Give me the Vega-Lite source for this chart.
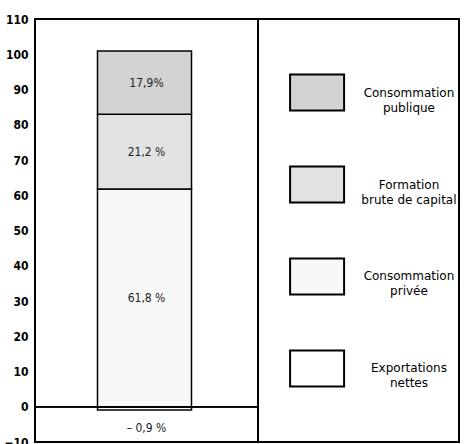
{
  "$schema": "https://vega.github.io/schema/vega-lite/v6.json",
  "padding": {"left": 2, "top": 12, "right": 11, "bottom": 2},
  "spacing": 0,
  "bounds": "flush",
  "background": "white",
  "config": {
    "view": {"stroke": "black", "strokeWidth": 2},
    "font": "DejaVu Sans Condensed",
    "axisY": {"labelOverlap": false, "labelBound": false, "ticks": false, "domain": false, "grid": false, "title": null, "labelFontSize": 12, "labelPadding": 7, "labelColor": "black", "labelFont": "DejaVu Sans Condensed", "labelFontWeight": "bold"}
  },
  "datasets": {
    "comp": [
      {"composante": "Exportations nettes", "legende": "Exportations\nnettes", "part": -0.9, "etiquette": "– 0,9 %", "ordre": 0},
      {"composante": "Consommation privée", "legende": "Consommation\nprivée", "part": 61.8, "etiquette": "61,8 %", "ordre": 1},
      {"composante": "Formation brute de capital", "legende": "Formation\nbrute de capital", "part": 21.2, "etiquette": "21,2 %", "ordre": 2},
      {"composante": "Consommation publique", "legende": "Consommation\npublique", "part": 17.9, "etiquette": "17,9%", "ordre": 3}
    ]
  },
  "hconcat": [
    {
      "width": 223,
      "height": 423,
      "data": {"name": "comp"},
      "transform": [
        {"stack": "part", "groupby": [], "sort": [{"field": "ordre", "order": "ascending"}], "as": ["v0", "v1"]},
        {"calculate": "(datum.v0 + datum.v1) / 2", "as": "milieu"}
      ],
      "resolve": {"axis": {"y": "independent"}},
      "layer": [
        {
          "mark": {"type": "bar", "width": 94, "xOffset": -2, "stroke": "black", "strokeWidth": 1.5},
          "encoding": {
            "x": {"datum": "Total", "type": "nominal", "axis": null, "scale": {"type": "band", "paddingInner": 0, "paddingOuter": 0}},
            "y": {
              "field": "v0", "type": "quantitative",
              "scale": {"domain": [-10, 110], "nice": false, "zero": false},
              "axis": {"values": [-10, 0, 10, 20, 30, 40, 50, 60, 70, 80, 90, 100, 110], "labelOverlap": false}
            },
            "y2": {"field": "v1"},
            "color": {
              "field": "composante", "type": "nominal", "legend": null,
              "scale": {
                "domain": ["Consommation publique", "Formation brute de capital", "Consommation privée", "Exportations nettes"],
                "range": ["#d3d3d3", "#e2e2e2", "#f8f8f8", "#ffffff"]
              }
            },
            "order": {"field": "ordre"}
          }
        },
        {
          "mark": {"type": "rule", "strokeWidth": 1.5, "color": "black"},
          "encoding": {"y": {"datum": 0, "type": "quantitative", "axis": null}}
        },
        {
          "transform": [{"filter": "datum.part > 0"}],
          "mark": {"type": "text", "fontSize": 12, "align": "center", "baseline": "middle", "color": "#222"},
          "encoding": {
            "y": {"field": "milieu", "type": "quantitative", "axis": null},
            "text": {"field": "etiquette"}
          }
        },
        {
          "transform": [{"filter": "datum.part < 0"}],
          "mark": {"type": "text", "fontSize": 12, "align": "center", "baseline": "middle", "color": "#222", "dy": 20},
          "encoding": {
            "y": {"field": "milieu", "type": "quantitative", "axis": null},
            "text": {"field": "etiquette"}
          }
        }
      ]
    },
    {
      "width": 201,
      "height": 423,
      "data": {"name": "comp"},
      "encoding": {
        "y": {
          "field": "composante", "type": "nominal", "axis": null,
          "scale": {"type": "point", "domain": ["Consommation publique", "Formation brute de capital", "Consommation privée", "Exportations nettes"], "padding": 0.8}
        }
      },
      "layer": [
        {
          "mark": {"type": "point", "filled": true, "shape": "M-1,-0.667L1,-0.667L1,0.667L-1,0.667Z", "size": 2916, "stroke": "black", "strokeWidth": 2, "opacity": 1, "strokeOpacity": 1},
          "encoding": {
            "x": {"datum": 0.294, "type": "quantitative", "axis": null, "scale": {"domain": [0, 1]}},
            "color": {"field": "composante", "type": "nominal", "legend": null}
          }
        },
        {
          "mark": {"type": "text", "lineBreak": "\n", "fontSize": 12, "lineHeight": 15, "align": "center", "baseline": "middle", "color": "black", "font": "DejaVu Sans"},
          "encoding": {
            "x": {"datum": 0.751, "type": "quantitative"},
            "text": {"field": "legende"}
          }
        }
      ]
    }
  ]
}
